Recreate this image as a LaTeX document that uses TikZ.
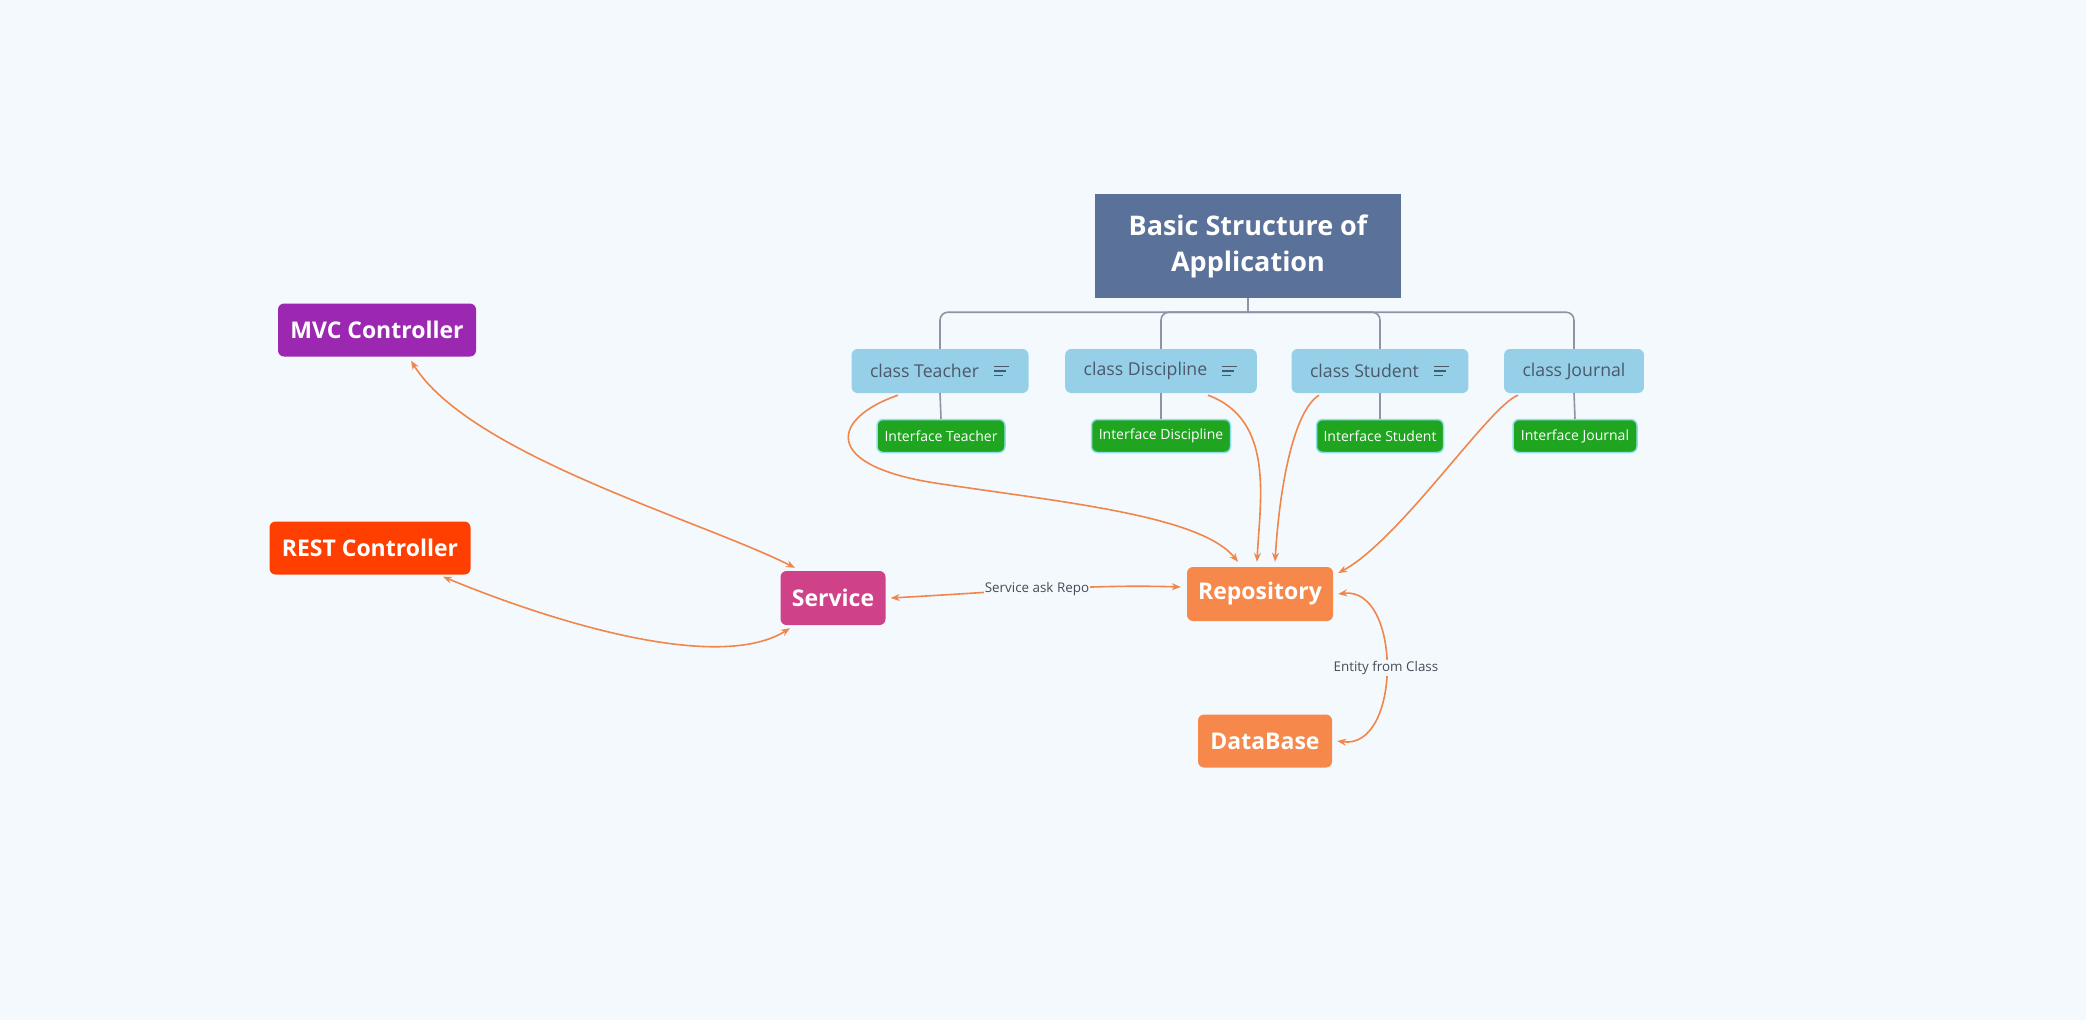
\documentclass[tikz,border=0pt]{standalone}
\usepackage{fontspec}
\setmainfont{Open Sans}
\usetikzlibrary{arrows.meta,calc}
\definecolor{bgc}{HTML}{F4F9FD}
\definecolor{rootc}{HTML}{5A7199}
\definecolor{classc}{HTML}{96D0E8}
\definecolor{classtxt}{HTML}{4C5869}
\definecolor{ifacec}{HTML}{1FA51F}
\definecolor{ifaceb}{HTML}{8FE0EA}
\definecolor{treec}{HTML}{8C95A5}
\definecolor{mvcc}{HTML}{9C27B0}
\definecolor{restc}{HTML}{FF3F00}
\definecolor{svcc}{HTML}{CF4189}
\definecolor{repoc}{HTML}{F5884A}
\definecolor{edgec}{HTML}{F0864A}
\definecolor{labc}{HTML}{444C58}
\tikzset{
  mainbox/.style={rounded corners=6pt, text=white, inner sep=0pt,
    font=\fontsize{23}{28}\selectfont\bfseries, minimum height=53pt},
  classbox/.style={fill=classc, rounded corners=6pt, text=classtxt, inner xsep=18.5pt,
    inner ysep=0pt, minimum height=44pt, font=\fontsize{17.7}{21}\selectfont},
  ifacebox/.style={fill=ifacec, draw=ifaceb, line width=1.5pt, rounded corners=6pt,
    text=white, inner sep=0pt, minimum height=33pt, font=\fontsize{14}{17}\selectfont},
  treeline/.style={draw=treec, line width=1.6pt},
  conn/.style={draw=edgec, line width=1.6pt},
  tip/.style={-{Stealth[length=9pt,width=7pt]}},
  bitip/.style={{Stealth[length=9pt,width=7pt]}-{Stealth[length=9pt,width=7pt]}},
  edgelabel/.style={fill=bgc, text=labc, inner sep=1pt, font=\fontsize{13.4}{16}\selectfont},
  iconline/.style={draw=classtxt, line width=1.3pt}
}
\newcommand\noteicon[1]{%
  \draw[iconline] ($(#1.east)+(-35,-4.5)$) -- ++(15,0);
  \draw[iconline] ($(#1.east)+(-35,0)$) -- ++(12,0);
  \draw[iconline] ($(#1.east)+(-35,4.5)$) -- ++(9,0);
}
\begin{document}
\begin{tikzpicture}[x=1pt,y=-1pt]
\fill[bgc] (0,0) rectangle (2086,1020);
\useasboundingbox (0,0) rectangle (2086,1020);

% root
\node[fill=rootc, text=white, minimum width=306pt, minimum height=104pt, inner sep=0pt,
  align=center, font=\fontsize{27}{36}\selectfont\bfseries] (root) at (1248,246)
  {Basic Structure of\\Application};

% classes
\node[classbox] (ct) at (940,371) {class Teacher\kern31pt};
\node[classbox] (cd) at (1161,371) {class Discipline\kern31pt};
\node[classbox] (cs) at (1380,371) {class Student\kern31pt};
\node[classbox] (cj) at (1574,371) {class Journal};
\noteicon{ct}
\noteicon{cd}
\noteicon{cs}

% interfaces
\node[ifacebox, minimum width=128pt] (it) at (941,436) {Interface Teacher};
\node[ifacebox, minimum width=139pt] (id) at (1161,436) {Interface Discipline};
\node[ifacebox, minimum width=127pt] (is) at (1380,436) {Interface Student};
\node[ifacebox, minimum width=124pt] (ij) at (1575,436) {Interface Journal};

% tree lines
\coordinate (hb) at ($(root.south)+(0,14)$);
\draw[treeline] (root.south) -- (hb);
\draw[treeline, rounded corners=8pt] (hb) -| (ct.north);
\draw[treeline, rounded corners=8pt] (hb) -| (cd.north);
\draw[treeline, rounded corners=8pt] (hb) -| (cs.north);
\draw[treeline, rounded corners=8pt] (hb) -| (cj.north);
\draw[treeline] (ct.south) -- (it.north);
\draw[treeline] (cd.south) -- (id.north);
\draw[treeline] (cs.south) -- (is.north);
\draw[treeline] (cj.south) -- (ij.north);

% main boxes
\node[mainbox, fill=mvcc, minimum width=198pt] (mvc) at (377,330) {MVC Controller};
\node[mainbox, fill=restc, minimum width=201pt] (rest) at (370,548) {REST Controller};
\node[mainbox, fill=svcc, minimum width=105pt, minimum height=54pt] (svc) at (833,598) {Service};
\node[mainbox, fill=repoc, minimum width=146pt, minimum height=54pt] (repo) at (1260,594) {Repository};
\node[mainbox, fill=repoc, minimum width=134pt] (db) at (1265,741) {DataBase};

% connectors
\draw[conn, bitip] ([xshift=34pt,yshift=-4pt]mvc.south) .. controls (470,455) and (700,520) .. ([xshift=-38pt,yshift=3pt]svc.north);
\draw[conn, bitip] ([xshift=73pt,yshift=-2pt]rest.south) .. controls (560,625) and (720,672) .. ([xshift=-43pt,yshift=-3pt]svc.south);
\draw[conn, bitip] ([xshift=5pt]svc.east) .. controls (1000,592) and (1090,584) .. ([xshift=-6pt,yshift=7pt]repo.west)
  node[edgelabel, pos=0.48] (lsr) {Service ask Repo};
\draw[conn, bitip] ([xshift=5pt]repo.east) .. controls (1402,586) and (1402,750) .. ([xshift=5pt]db.east)
  node[edgelabel, pos=0.5] (lrd) {Entity from Class};
\draw[conn, tip] ([xshift=-42pt,yshift=-2pt]ct.south) .. controls (832,418) and (820,465) .. (935,483)
  .. controls (1060,502) and (1200,515) .. ([xshift=-22pt,yshift=5pt]repo.north);
\draw[conn, tip] ([xshift=47pt,yshift=-2pt]cd.south) .. controls (1275,420) and (1260,500) .. ([xshift=-3pt,yshift=5pt]repo.north);
\draw[conn, tip] ([xshift=-61pt,yshift=-2pt]cs.south) .. controls (1295,410) and (1280,480) .. ([xshift=15pt,yshift=5pt]repo.north);
\draw[conn, tip] ([xshift=-56pt,yshift=-2pt]cj.south) .. controls (1490,405) and (1400,540) .. ([xshift=5pt,yshift=21pt]repo.east);
\end{tikzpicture}
\end{document}
